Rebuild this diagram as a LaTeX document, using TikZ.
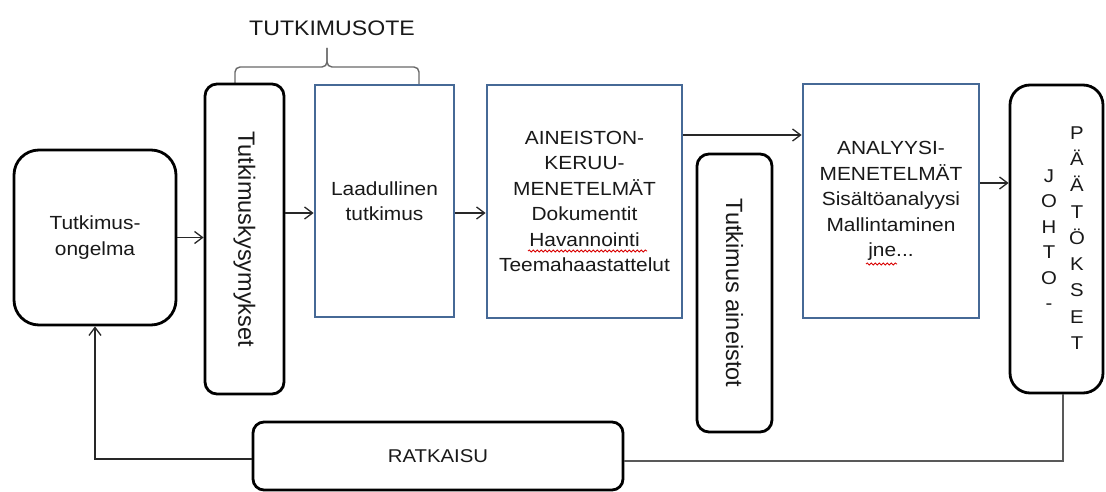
\documentclass[tikz,border=0pt]{standalone}
\usepackage{fontspec}
\usepackage{graphicx}
\setmainfont{Liberation Sans}[FakeStretch=1.1]
\newfontfamily\plainsans{Liberation Sans}
\usetikzlibrary{arrows.meta,decorations.pathmorphing}

\definecolor{boxblue}{RGB}{70,105,150}
\definecolor{bracegray}{RGB}{105,105,105}
\definecolor{inkline}{RGB}{40,40,40}

\tikzset{
  blackbox/.style={draw=black, line width=2.8pt, rounded corners=#1, inner sep=0pt, fill=white},
  blackbox/.default=12pt,
  bluebox/.style={draw=boxblue, line width=2.8pt, inner sep=0pt, fill=white},
  conn/.style={line width=1.3pt, draw=inkline,
    -{Straight Barb[length=8pt,width=12pt,line width=1.3pt]}},
  plainline/.style={line width=1.6pt, draw=black!65},
  body/.style={font=\fontsize{19}{25.5}\selectfont, align=center, text=black!90},
  vtext/.style={font=\plainsans\fontsize{23.5}{27}\selectfont, text=black!90},
  letters/.style={font=\fontsize{18.5}{#1}\selectfont, align=center, inner sep=0pt,
    anchor=north, text=black!90},
  brace/.style={draw=bracegray, line width=1.4pt, rounded corners=5pt},
  squiggle/.style={draw=red!85!black, line width=0.8pt, decorate,
    decoration={snake, amplitude=1.1pt, segment length=4pt}}
}

\begin{document}
\begin{tikzpicture}[x=1pt, y=-1pt]
\useasboundingbox[fill=white] (0,0) rectangle (1106,492);

% title over the two first steps
\node[font=\fontsize{21}{25}\selectfont, text=black!90] (title) at (332,28) {TUTKIMUSOTE};
\draw[brace] (235,84) -- (235,67) -- (327,67) -- (327,48);
\draw[brace] (419,85) -- (419,67) -- (327,67) -- (327,48);

% process boxes
\node[blackbox=25pt, body, minimum width=162pt, minimum height=175pt]
  (prob) at (95,237.5) {Tutkimus-\\ongelma};
\node[blackbox=12pt, vtext, minimum width=79pt, minimum height=310pt]
  (kys) at (244.5,239) {\rotatebox{-90}{Tutkimuskysymykset}};
\node[bluebox, body, minimum width=139pt, minimum height=232pt]
  (laad) at (384.5,201) {Laadullinen\\tutkimus};
\node[bluebox, body, minimum width=195pt, minimum height=233pt]
  (ain) at (584.5,201.5) {AINEISTON-\\KERUU-\\MENETELMÄT\\Dokumentit\\Havannointi\\Teemahaastattelut};
\node[blackbox=12pt, vtext, minimum width=75pt, minimum height=278pt]
  (aineisto) at (734.5,293) {\rotatebox{-90}{Tutkimus aineistot}};
\node[bluebox, body, minimum width=176pt, minimum height=234pt]
  (ana) at (891,201) {ANALYYSI-\\MENETELMÄT\\Sisältöanalyysi\\Mallintaminen\\jne...};
\node[blackbox=20pt, minimum width=93pt, minimum height=308pt]
  (joh) at (1056.5,239) {};
\node[letters=25.4] (johA) at (1049,169.5) {J\\O\\H\\T\\O\\-};
\node[letters=26.25] (johB) at (1077,126.5) {P\\Ä\\Ä\\T\\Ö\\K\\S\\E\\T};
\node[blackbox=11pt, font=\fontsize{18.5}{22}\selectfont, text=black!90,
  minimum width=370pt, minimum height=68pt] (ratk) at (438,456) {RATKAISU};

% spelling marks under two words
\draw[squiggle] (528,251) -- (647,251);
\draw[squiggle] (866,264) -- (897,264);

% connectors
\draw[conn] (prob.east) -- (prob.east -| kys.west);
\draw[conn] ([yshift=-12pt]laad.west -| kys.east) -- ([yshift=-12pt]laad.west);
\draw[conn] ([yshift=-12pt]laad.east) -- ([yshift=-12pt]laad.east -| ain.west);
\draw[conn] ([yshift=66.5pt]ain.east) -- ([yshift=66.5pt]ain.east -| ana.west);
\draw[conn] ([yshift=18pt]ana.east) -- ([yshift=18pt]ana.east -| joh.west);
\draw[conn] ([yshift=-3pt]ratk.west) -| (prob.south);
\draw[plainline] ([yshift=-5pt]ratk.east) -| ([xshift=6.5pt]joh.south);
\end{tikzpicture}
\end{document}
